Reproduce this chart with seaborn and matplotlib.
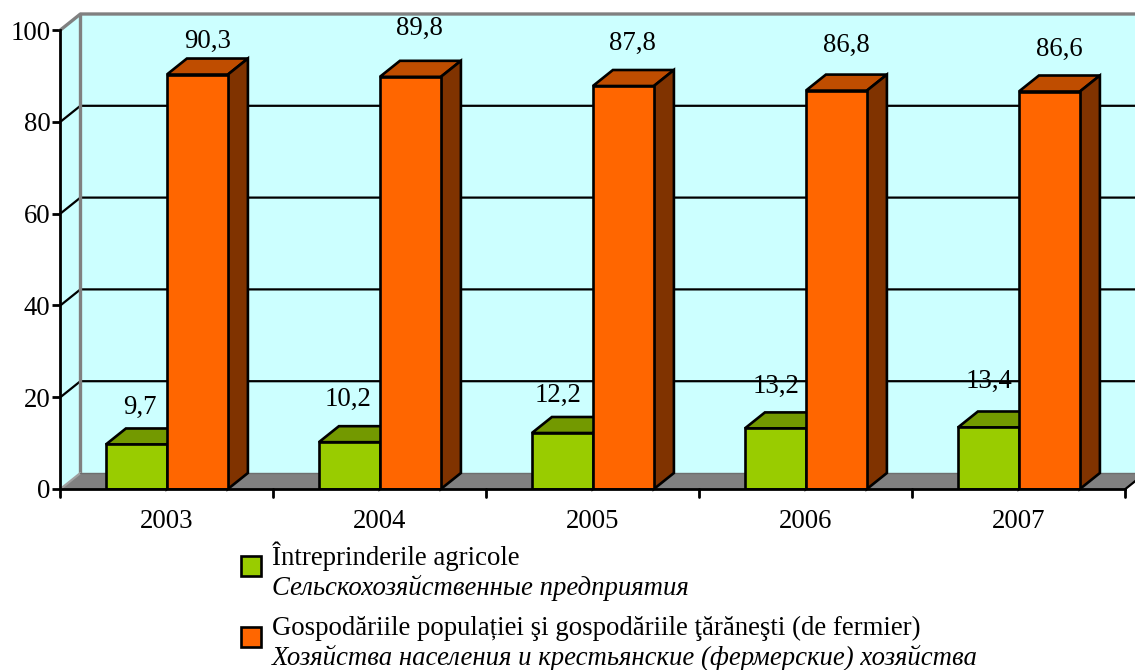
import matplotlib
matplotlib.use("Agg")
import matplotlib.pyplot as plt
from matplotlib.patches import Polygon, Rectangle
import pandas as pd
import seaborn as sns

years = ["2003", "2004", "2005", "2006", "2007"]
enterprises = [9.7, 10.2, 12.2, 13.2, 13.4]
households = [90.3, 89.8, 87.8, 86.8, 86.6]
series_names = ["Întreprinderile agricole", "Gospodăriile populației"]
legend_ro = ["Întreprinderile agricole",
             "Gospodăriile populației şi gospodăriile ţărăneşti (de fermier)"]
legend_ru = ["Сельскохозяйственные предприятия",
             "Хозяйства населения и крестьянские (фермерские) хозяйства"]
y_ticks = [0, 20, 40, 60, 80, 100]

W, H = 1135, 670
L, R, T, B = 60.4, 1125.4, 30, 489
DX_PX, DY_PX = 20, 16
FONT = "Liberation Serif"
FS = 19.3
EDGE = 1.9
GREEN, GREEN_TOP, GREEN_SIDE = "#99CC00", "#739900", "#4D6600"
ORANGE, ORANGE_TOP, ORANGE_SIDE = "#FF6600", "#BF4D00", "#803300"
CYAN, GRAY = "#CCFFFF", "#808080"

# label offsets from each bar's top centre, pixels
green_off = [(3, 37), (-1, 43), (-4, 38), (1, 42), (1, 46)]
orange_off = [(10, 33), (9, 48), (9, 43), (10, 45), (10, 42)]

sns.set_theme(style="white")
plt.rcParams["font.family"] = [FONT, "DejaVu Serif"]

df = pd.DataFrame({
    "year": years * 2,
    "value": enterprises + households,
    "series": [series_names[0]] * 5 + [series_names[1]] * 5,
})

fig = plt.figure(figsize=(W / 100, H / 100), dpi=100, facecolor="white")
ax = fig.add_axes([L / W, 1 - B / H, (R - L) / W, (B - T) / H])
ax.set_facecolor("none")

sns.barplot(data=df, x="year", y="value", hue="series", hue_order=series_names,
            palette=[GREEN, ORANGE], saturation=1, width=122 / 213, gap=0, dodge=True,
            edgecolor="black", linewidth=EDGE, legend=False, ax=ax, zorder=3)
ax.set_xlim(-0.5, 4.5)
ax.set_ylim(0, 100)
ax.set_xlabel("")
ax.set_ylabel("")

dx = DX_PX * 5 / (R - L)
dy = DY_PX * 100 / (B - T)
x0, x1 = ax.get_xlim()


def poly(pts, face, edge="none", lw=0, z=1):
    ax.add_patch(Polygon(pts, closed=True, facecolor=face, edgecolor=edge,
                         linewidth=lw, zorder=z, clip_on=False, joinstyle="miter"))


# walls and floor
poly([(x0, 0), (x0 + dx, dy), (x0 + dx, 100 + dy), (x0, 100)], CYAN, z=0.5)
poly([(x0 + dx, dy), (x1 + dx, dy), (x1 + dx, 100 + dy), (x0 + dx, 100 + dy)], CYAN, z=0.5)
poly([(x0, 0), (x1, 0), (x1 + dx, dy), (x0 + dx, dy)], GRAY, z=0.7)

# gridlines on the back wall and their run across the side wall
for t in y_ticks[1:-1]:
    ax.plot([x0, x0 + dx, x1 + dx], [t, t + dy, t + dy], color="black", lw=1.6,
            zorder=0.8, clip_on=False, solid_joinstyle="miter")

# grey wall frame
ax.plot([x0, x0 + dx, x1 + dx], [100, 100 + dy, 100 + dy], color=GRAY, lw=2.4,
        zorder=0.9, clip_on=False)
ax.plot([x0 + dx, x0 + dx], [dy, 100 + dy], color=GRAY, lw=2.4, zorder=0.9, clip_on=False)
ax.plot([x0, x0 + dx], [0, dy], color="#A0A0A0", lw=1.6, zorder=0.9, clip_on=False)
ax.plot([x0 + dx, x1 + dx], [dy, dy], color="#6E6E6E", lw=1.0, zorder=0.9, clip_on=False)
ax.plot([x1, x1 + dx], [0, dy], color="black", lw=1.6, zorder=0.9, clip_on=False)

# depth faces and value labels, taken from the bars seaborn drew
bars = [b for b in ax.patches
        if isinstance(b, Rectangle) and b.get_height() > 0 and b.get_width() < 1][:10]
tops = [GREEN_TOP] * 5 + [ORANGE_TOP] * 5
sides = [GREEN_SIDE] * 5 + [ORANGE_SIDE] * 5
labels = enterprises + households
offs = green_off + orange_off
for b, tc, sc, val, off in zip(bars, tops, sides, labels, offs):
    xl, w, h = b.get_x(), b.get_width(), b.get_height()
    xr = xl + w
    poly([(xl, h), (xr, h), (xr + dx, h + dy), (xl + dx, h + dy)], tc, "black", EDGE, 2)
    poly([(xr, 0), (xr + dx, dy), (xr + dx, h + dy), (xr, h)], sc, "black", EDGE, 2)
    ax.annotate(f"{val:.1f}".replace(".", ","), (xl + w / 2, h),
                xytext=(off[0] * 0.72, off[1] * 0.72), textcoords="offset points",
                ha="center", va="center", fontsize=FS, family=FONT, color="black",
                zorder=1.5, annotation_clip=False)

# axes
for s in ["top", "right"]:
    ax.spines[s].set_visible(False)
for s in ["left", "bottom"]:
    ax.spines[s].set_color("black")
    ax.spines[s].set_linewidth(2.0)
    ax.spines[s].set_zorder(5)
ax.set_yticks(y_ticks)
ax.set_yticklabels([str(t) for t in y_ticks], fontsize=FS, family=FONT, color="black")
ax.tick_params(axis="y", left=True, length=5.8, width=2.0, color="black", pad=1.5)
ax.set_xticks(range(len(years)))
ax.set_xticklabels(years, fontsize=FS, family=FONT, color="black")
ax.tick_params(axis="x", bottom=False, pad=8.5)
# category separators under the axis
for k in range(len(years) + 1):
    ax.plot([x0 + k, x0 + k], [0, -8 * 100 / (B - T)], color="black", lw=2.0,
            clip_on=False, zorder=5)

# legend
rows = [(240.5, 556, 565, 595), (240.5, 627, 635, 665)]
for (sx, sy, y_ro, y_ru), c, ro, ru in zip(rows, [GREEN, ORANGE], legend_ro, legend_ru):
    fig.add_artist(Rectangle((sx / W, 1 - (sy + 20) / H), 20 / W, 20 / H, transform=fig.transFigure,
                             facecolor=c, edgecolor="black", linewidth=1.9))
    fig.text(272 / W, 1 - y_ro / H, ro, fontsize=FS, family=FONT, va="baseline", color="black")
    fig.text(272 / W, 1 - y_ru / H, ru, fontsize=FS, family=FONT, style="italic",
             va="baseline", color="black")

fig.savefig("out.png", dpi=100)
